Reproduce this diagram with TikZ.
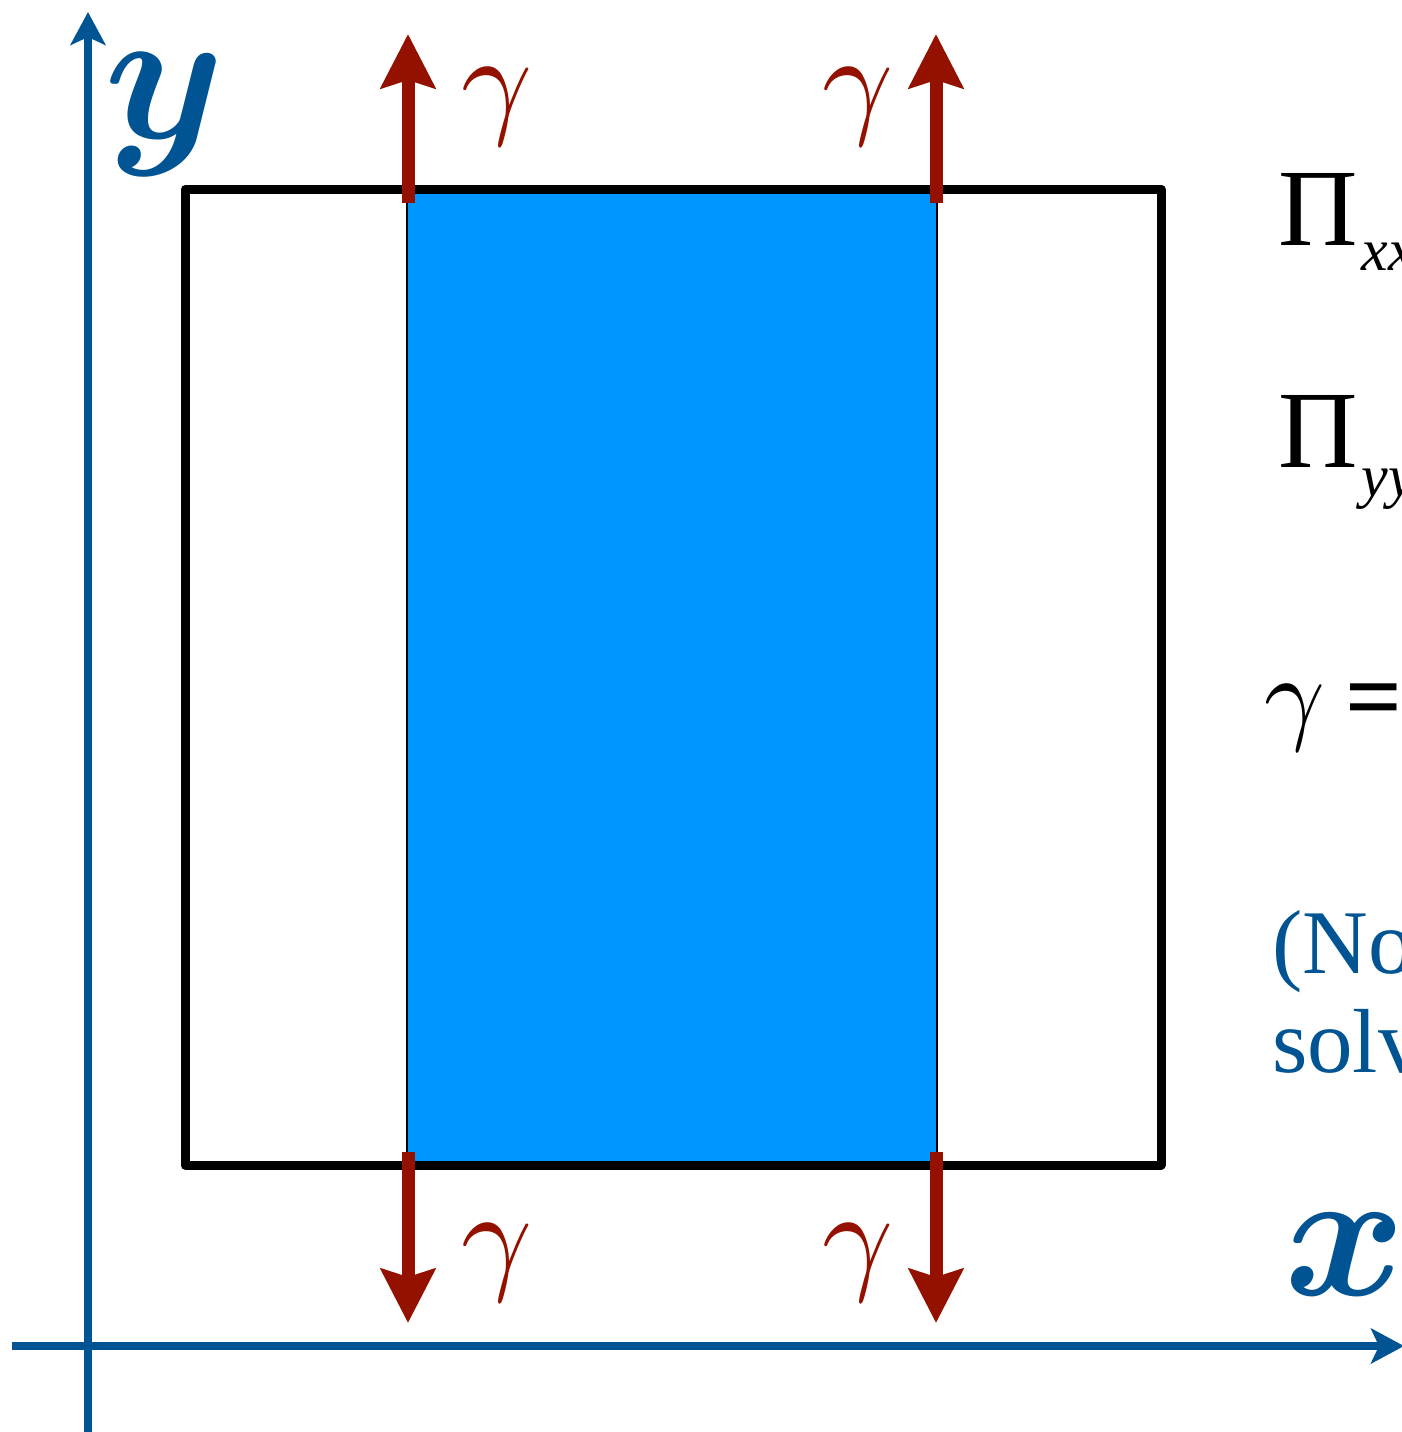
\documentclass[tikz,border=0pt]{standalone}
\usepackage{amsmath}
\usepackage{fontspec}
\setmainfont{Liberation Serif}
\usetikzlibrary{arrows.meta}
\definecolor{ocean}{RGB}{0,84,147}
\definecolor{aqua}{RGB}{0,150,255}
\definecolor{cayenne}{RGB}{148,17,0}
\begin{document}
\begin{tikzpicture}[x=0.5pt,y=-0.5pt,
  axisline/.style={draw=ocean,line width=4pt,-{Stealth[length=16.5pt,width=17.5pt,inset=4pt]}},
  flux/.style={draw=cayenne,line width=6.5pt,-{Stealth[length=27pt,width=27pt,inset=4pt]}},
  lbl/.style={inner sep=0pt,outer sep=0pt},
  gammalbl/.style={lbl,text=cayenne,scale=6.2},
  axislbl/.style={lbl,text=ocean},
  righttext/.style={lbl,anchor=base west},
  notetext/.style={lbl,anchor=base west,text=ocean,font=\fontsize{45.5}{45.5}\selectfont}]
\useasboundingbox (0,0) rectangle (1402,1432);
\clip (0,0) rectangle (1402,1432);
% axes
\coordinate (xstart) at (12,1346);
\coordinate (xend) at (1404,1346);
\coordinate (ystart) at (88,1440);
\coordinate (yend) at (88,12);
\draw[axisline] (xstart) -- (xend);
\draw[axisline] (ystart) -- (yend);
% strip
\fill[aqua] (407,189) rectangle (937,1165);
\draw[line width=1pt] (407,189) -- (407,1165) (937,189) -- (937,1165);
% box
\draw[line width=4.5pt,line join=round] (185,189) rectangle (1161,1165);
% flux arrows
\coordinate (tl0) at (408,203);
\coordinate (tl1) at (408,34);
\coordinate (tr0) at (936,203);
\coordinate (tr1) at (936,34);
\coordinate (bl0) at (408,1152);
\coordinate (bl1) at (408,1323);
\coordinate (br0) at (936,1152);
\coordinate (br1) at (936,1323);
\draw[flux] (tl0) -- (tl1);
\draw[flux] (tr0) -- (tr1);
\draw[flux] (bl0) -- (bl1);
\draw[flux] (br0) -- (br1);
% gamma labels
\node[gammalbl] (g1) at (497,107) {$\gamma$};
\node[gammalbl] (g2) at (858,107) {$\gamma$};
\node[gammalbl] (g3) at (497,1263) {$\gamma$};
\node[gammalbl] (g4) at (858,1263) {$\gamma$};
% axis labels
\node[axislbl,scale=9.6] (ylab) at (165,114) {$\boldsymbol{y}$};
\node[axislbl,scale=9.2] (xlab) at (1345,1255) {$\boldsymbol{x}$};
% right-hand text
\node[righttext] (pxx) at (1278,245) {\fontsize{55}{55}\selectfont Π\hspace{2pt}\raisebox{-12.5pt}{\fontsize{30}{30}\selectfont\itshape xx}};
\node[righttext] (pyy) at (1278,467) {\fontsize{55}{55}\selectfont Π\hspace{2pt}\raisebox{-14.5pt}{\fontsize{30}{30}\selectfont\itshape yy}};
\node[lbl,scale=5.3] (geq) at (1295,718) {$\gamma$};
\node[righttext,font=\fontsize{50}{50}\selectfont\bfseries] (eq) at (1345,730) {=};
\node[notetext] (note1) at (1272,973) {(No};
\node[notetext] (note2) at (1272,1072) {solv};
\end{tikzpicture}
\end{document}
